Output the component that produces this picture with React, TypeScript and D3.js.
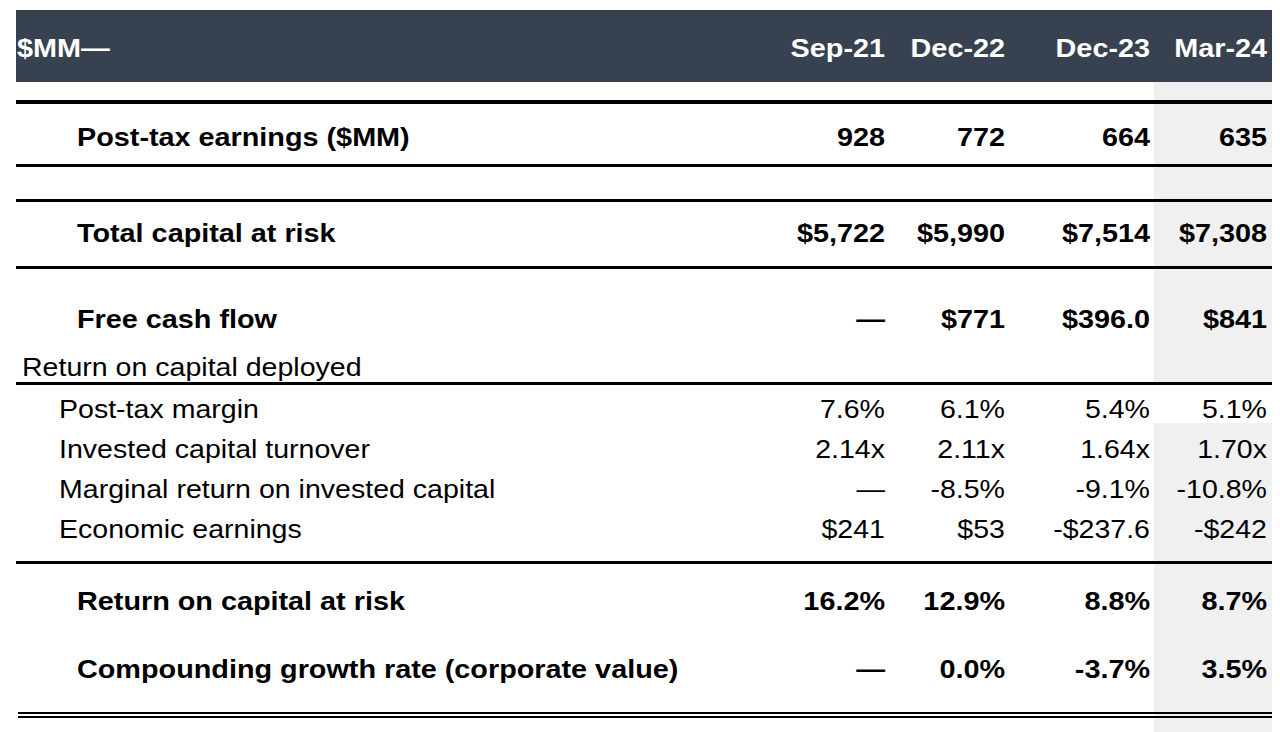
import React from "react";
import * as d3 from "d3";

const periods = ["Sep-21", "Dec-22", "Dec-23", "Mar-24"];
const headerLabel = "$MM—";
const sectionLabel = "Return on capital deployed";

const boldRowLabels = [
  "Post-tax earnings ($MM)",
  "Total capital at risk",
  "Free cash flow",
];
const boldRowValues = [
  ["928", "772", "664", "635"],
  ["$5,722", "$5,990", "$7,514", "$7,308"],
  ["—", "$771", "$396.0", "$841"],
];

const subRowLabels = [
  "Post-tax margin",
  "Invested capital turnover",
  "Marginal return on invested capital",
  "Economic earnings",
];
const subRowValues = [
  ["7.6%", "6.1%", "5.4%", "5.1%"],
  ["2.14x", "2.11x", "1.64x", "1.70x"],
  ["—", "-8.5%", "-9.1%", "-10.8%"],
  ["$241", "$53", "-$237.6", "-$242"],
];

const totalRowLabels = [
  "Return on capital at risk",
  "Compounding growth rate (corporate value)",
];
const totalRowValues = [
  ["16.2%", "12.9%", "8.8%", "8.7%"],
  ["—", "0.0%", "-3.7%", "3.5%"],
];

const W = 1280;
const H = 732;
const FONT = "'Liberation Sans', Arial, Helvetica, sans-serif";
const FS = 25;
const SX = 1.142;
const SXB = 1.152;

function T({
  x,
  y,
  anchor = "start",
  bold = false,
  fill = "#000",
  children,
}: {
  x: number;
  y: number;
  anchor?: string;
  bold?: boolean;
  fill?: string;
  children: React.ReactNode;
}) {
  return (
    <text
      transform={`translate(${x},${y + 0.5}) scale(${bold ? SXB : SX},1)`}
      textAnchor={anchor}
      fontWeight={bold ? "bold" : "normal"}
      fontSize={FS}
      fill={fill}
    >
      {children}
    </text>
  );
}

export default function App() {
  // column right edges
  const colX = d3.scaleOrdinal<string, number>().domain(periods).range([885, 1005, 1150, 1267]);
  const boldY = d3.scaleOrdinal<string, number>().domain(boldRowLabels).range([145, 241, 327]);
  const subY = d3.scalePoint<string>().domain(subRowLabels).range([417, 537]);
  const totalY = d3.scaleOrdinal<string, number>().domain(totalRowLabels).range([609, 677]);

  const left = 16;
  const right = 1272;
  const hlines = [
    { y: 102, w: 4 },
    { y: 165.5, w: 3 },
    { y: 200.5, w: 3 },
    { y: 267.5, w: 3 },
    { y: 383.5, w: 3 },
    { y: 562.5, w: 3 },
    { y: 713, w: 2 },
    { y: 717, w: 2 },
  ];

  const greyX0 = 1154;
  const greyX1 = 1272;

  return (
    <svg
      width={W}
      height={H}
      style={{ position: "absolute", left: 0, top: 0, background: "#fff" }}
      fontFamily={FONT}
    >
      <rect x={0} y={0} width={W} height={H} fill="#fff" />
      {/* highlighted column */}
      <rect x={greyX0} y={82} width={greyX1 - greyX0} height={383 - 82} fill="#f0f0f0" />
      <rect x={greyX0} y={423} width={greyX1 - greyX0} height={H - 423} fill="#f0f0f0" />

      {/* header */}
      <rect x={left} y={10} width={right - left} height={72} fill="#38414f" />
      <T x={17} y={56} bold fill="#fff">
        {headerLabel}
      </T>
      {periods.map((p) => (
        <T key={p} x={colX(p)} y={56} bold fill="#fff" anchor="end">
          {p}
        </T>
      ))}

      {/* lines */}
      {hlines.map((l, i) => (
        <line key={i} x1={i >= 6 ? 18 : left} x2={right} y1={l.y} y2={l.y} stroke="#000" strokeWidth={l.w} />
      ))}

      {/* bold rows */}
      {boldRowLabels.map((lab, ri) => (
        <g key={lab}>
          <T x={77} y={boldY(lab)} bold>{lab}</T>
          {periods.map((p, ci) => (
            <T key={p} x={colX(p)} y={boldY(lab)} anchor="end" bold>
              {boldRowValues[ri][ci]}
            </T>
          ))}
        </g>
      ))}

      {/* section label */}
      <T x={22} y={375}>{sectionLabel}</T>

      {/* sub rows */}
      {subRowLabels.map((lab, ri) => (
        <g key={lab}>
          <T x={59} y={subY(lab)}>{lab}</T>
          {periods.map((p, ci) => (
            <T key={p} x={colX(p)} y={subY(lab)} anchor="end">
              {subRowValues[ri][ci]}
            </T>
          ))}
        </g>
      ))}

      {/* total rows */}
      {totalRowLabels.map((lab, ri) => (
        <g key={lab}>
          <T x={77} y={totalY(lab)} bold>{lab}</T>
          {periods.map((p, ci) => (
            <T key={p} x={colX(p)} y={totalY(lab)} anchor="end" bold>
              {totalRowValues[ri][ci]}
            </T>
          ))}
        </g>
      ))}
    </svg>
  );
}
